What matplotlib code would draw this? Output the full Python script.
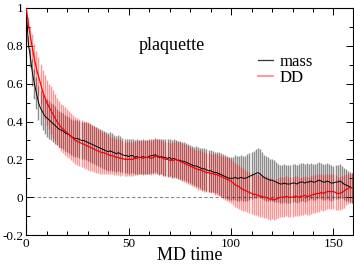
import numpy as np
import matplotlib

matplotlib.use("Agg")
import matplotlib.pyplot as plt
from matplotlib.lines import Line2D
from matplotlib.ticker import MultipleLocator

# MD time steps (one measurement per unit)
md_time = np.arange(160)

# plaquette autocorrelation, "mass" run
mass_mean = [
    1.00, 0.82, 0.74, 0.66, 0.60, 0.55, 0.50, 0.47, 0.45, 0.43,
    0.42, 0.41, 0.40, 0.39, 0.38, 0.37, 0.36, 0.355, 0.35, 0.34,
    0.335, 0.33, 0.32, 0.315, 0.31, 0.31, 0.305, 0.30, 0.30, 0.295,
    0.29, 0.285, 0.28, 0.275, 0.27, 0.265, 0.26, 0.255, 0.25, 0.245,
    0.24, 0.245, 0.24, 0.235, 0.23, 0.235, 0.23, 0.225, 0.22, 0.22,
    0.215, 0.22, 0.22, 0.21, 0.215, 0.21, 0.21, 0.215, 0.21, 0.21,
    0.215, 0.22, 0.22, 0.225, 0.215, 0.21, 0.215, 0.21, 0.21, 0.205,
    0.21, 0.20, 0.205, 0.20, 0.195, 0.195, 0.19, 0.19, 0.185, 0.18,
    0.175, 0.17, 0.165, 0.165, 0.16, 0.155, 0.15, 0.15, 0.145, 0.14,
    0.14, 0.135, 0.13, 0.13, 0.125, 0.12, 0.115, 0.11, 0.105, 0.10,
    0.10, 0.10, 0.105, 0.10, 0.10, 0.105, 0.10, 0.10, 0.105, 0.11,
    0.115, 0.12, 0.125, 0.13, 0.125, 0.115, 0.105, 0.10, 0.095, 0.09,
    0.09, 0.085, 0.08, 0.075, 0.07, 0.07, 0.075, 0.07, 0.07, 0.07,
    0.075, 0.075, 0.07, 0.075, 0.08, 0.08, 0.075, 0.08, 0.08, 0.085,
    0.08, 0.08, 0.085, 0.09, 0.085, 0.08, 0.08, 0.085, 0.08, 0.075,
    0.075, 0.08, 0.08, 0.085, 0.08, 0.07, 0.065, 0.06, 0.055, 0.05,
]
mass_err = [
    0.0, 0.03, 0.05, 0.07, 0.08, 0.085, 0.09, 0.09, 0.095, 0.095,
    0.1, 0.1, 0.1, 0.1, 0.1, 0.095, 0.095, 0.095, 0.095, 0.095,
    0.095, 0.095, 0.095, 0.095, 0.1, 0.1, 0.1, 0.1, 0.1, 0.1,
    0.1, 0.1, 0.1, 0.1, 0.1, 0.1, 0.1, 0.1, 0.1, 0.1,
    0.1, 0.1, 0.1, 0.095, 0.095, 0.095, 0.095, 0.09, 0.09, 0.09,
    0.09, 0.09, 0.09, 0.09, 0.09, 0.09, 0.09, 0.09, 0.09, 0.09,
    0.09, 0.09, 0.09, 0.09, 0.095, 0.095, 0.095, 0.1, 0.1, 0.1,
    0.1, 0.1, 0.1, 0.1, 0.1, 0.1, 0.1, 0.1, 0.1, 0.1,
    0.1, 0.1, 0.1, 0.105, 0.105, 0.105, 0.11, 0.11, 0.11, 0.11,
    0.11, 0.11, 0.11, 0.11, 0.115, 0.115, 0.115, 0.115, 0.115, 0.115,
    0.115, 0.115, 0.12, 0.12, 0.12, 0.12, 0.12, 0.12, 0.125, 0.125,
    0.125, 0.125, 0.13, 0.13, 0.13, 0.125, 0.12, 0.12, 0.115, 0.11,
    0.11, 0.11, 0.105, 0.1, 0.1, 0.1, 0.1, 0.1, 0.1, 0.1,
    0.1, 0.1, 0.1, 0.1, 0.1, 0.1, 0.1, 0.1, 0.095, 0.095,
    0.095, 0.095, 0.095, 0.095, 0.095, 0.095, 0.095, 0.095, 0.095, 0.095,
    0.09, 0.09, 0.09, 0.09, 0.085, 0.085, 0.085, 0.08, 0.08, 0.08,
]

# "DD" run
dd_mean = [
    1.00, 0.92, 0.85, 0.79, 0.73, 0.68, 0.64, 0.60, 0.56, 0.53,
    0.50, 0.48, 0.46, 0.44, 0.42, 0.40, 0.385, 0.37, 0.36, 0.35,
    0.34, 0.33, 0.32, 0.31, 0.30, 0.295, 0.29, 0.285, 0.28, 0.275,
    0.27, 0.265, 0.26, 0.255, 0.25, 0.245, 0.24, 0.235, 0.235, 0.23,
    0.225, 0.22, 0.22, 0.215, 0.21, 0.21, 0.205, 0.205, 0.20, 0.20,
    0.20, 0.20, 0.20, 0.205, 0.205, 0.21, 0.21, 0.205, 0.21, 0.21,
    0.21, 0.205, 0.21, 0.215, 0.22, 0.215, 0.21, 0.205, 0.20, 0.20,
    0.195, 0.195, 0.195, 0.20, 0.195, 0.19, 0.185, 0.18, 0.175, 0.17,
    0.165, 0.16, 0.155, 0.15, 0.145, 0.145, 0.14, 0.135, 0.13, 0.13,
    0.125, 0.125, 0.12, 0.12, 0.115, 0.11, 0.105, 0.10, 0.095, 0.09,
    0.085, 0.075, 0.065, 0.06, 0.055, 0.045, 0.04, 0.035, 0.03, 0.025,
    0.02, 0.015, 0.015, 0.01, 0.005, 0.005, 0.0, 0.0, -0.005, -0.01,
    -0.01, -0.015, -0.01, -0.005, 0.0, 0.0, 0.0, 0.005, 0.0, 0.0,
    0.0, 0.005, 0.005, 0.0, 0.005, 0.005, 0.01, 0.005, 0.005, 0.01,
    0.015, 0.015, 0.02, 0.02, 0.025, 0.02, 0.025, 0.03, 0.03, 0.03,
    0.03, 0.025, 0.02, 0.02, 0.025, 0.03, 0.04, 0.045, 0.05, 0.05,
]
dd_err = [
    0.0, 0.03, 0.05, 0.07, 0.08, 0.09, 0.1, 0.105, 0.11, 0.115,
    0.12, 0.12, 0.125, 0.125, 0.125, 0.125, 0.125, 0.125, 0.125, 0.125,
    0.125, 0.125, 0.125, 0.125, 0.125, 0.125, 0.125, 0.125, 0.125, 0.125,
    0.125, 0.125, 0.12, 0.12, 0.12, 0.115, 0.115, 0.11, 0.11, 0.105,
    0.105, 0.1, 0.1, 0.1, 0.095, 0.095, 0.095, 0.09, 0.09, 0.09,
    0.09, 0.09, 0.09, 0.09, 0.09, 0.09, 0.09, 0.09, 0.09, 0.09,
    0.09, 0.09, 0.09, 0.09, 0.09, 0.09, 0.09, 0.09, 0.09, 0.09,
    0.09, 0.09, 0.095, 0.095, 0.095, 0.1, 0.1, 0.1, 0.1, 0.1,
    0.1, 0.1, 0.1, 0.1, 0.105, 0.105, 0.105, 0.105, 0.105, 0.105,
    0.105, 0.105, 0.11, 0.11, 0.11, 0.11, 0.115, 0.115, 0.115, 0.115,
    0.115, 0.115, 0.115, 0.115, 0.115, 0.115, 0.115, 0.11, 0.11, 0.11,
    0.11, 0.11, 0.11, 0.11, 0.11, 0.11, 0.11, 0.11, 0.11, 0.11,
    0.105, 0.105, 0.105, 0.105, 0.105, 0.105, 0.105, 0.105, 0.105, 0.105,
    0.105, 0.105, 0.105, 0.1, 0.1, 0.1, 0.1, 0.1, 0.1, 0.1,
    0.1, 0.1, 0.1, 0.1, 0.095, 0.095, 0.095, 0.09, 0.09, 0.09,
    0.09, 0.09, 0.085, 0.085, 0.085, 0.085, 0.08, 0.08, 0.08, 0.08,
]

y_ticks = [-0.2, 0, 0.2, 0.4, 0.6, 0.8, 1]
y_labels = ["-0.2", "0", "0.2", "0.4", "0.6", "0.8", "1"]
x_ticks = [0, 50, 100, 150]
x_labels = ["0", "50", "100", "150"]

plt.rcParams["font.family"] = ["Liberation Serif", "DejaVu Serif"]

fig = plt.figure(figsize=(3.54, 2.65), dpi=100)
ax = fig.add_axes([0.074, 0.113, 0.923, 0.857])

ax.axhline(0, color="#888888", linestyle=(0, (3, 2)), linewidth=0.8, zorder=1)

ax.errorbar(md_time, mass_mean, yerr=mass_err, fmt="none",
            ecolor=(0, 0, 0, 0.45), elinewidth=1.0, capsize=0, zorder=2)
ax.errorbar(md_time, dd_mean, yerr=dd_err, fmt="none",
            ecolor=(1, 0, 0, 0.42), elinewidth=1.0, capsize=0, zorder=3)
ax.plot(md_time, mass_mean, color="black", linewidth=0.7, zorder=4)
ax.plot(md_time, dd_mean, color="red", linewidth=0.9, zorder=5)

ax.set_xlim(0, 159.5)
ax.set_ylim(-0.2, 1.0)
ax.set_xticks(x_ticks, x_labels)
ax.set_yticks(y_ticks, y_labels)
ax.xaxis.set_minor_locator(MultipleLocator(10))
ax.yaxis.set_minor_locator(MultipleLocator(0.1))
ax.tick_params(which="both", direction="in", top=True, right=True,
               labelsize=9.5, pad=2)
ax.tick_params(which="major", length=5, width=0.7)
ax.tick_params(which="minor", length=3, width=0.7)
for spine in ax.spines.values():
    spine.set_linewidth(0.8)

ax.set_xlabel("MD time", fontsize=13, labelpad=-2)
ax.text(71, 0.80, "plaquette", fontsize=13, ha="center", va="center")

handles = [Line2D([], [], color="#333333", linewidth=0.9),
           Line2D([], [], color="#ff9090", linewidth=1.3)]
ax.legend(handles, ["mass", "DD"], loc="upper left",
          bbox_to_anchor=(0.675, 0.85), frameon=False, fontsize=12,
          handlelength=0.9, handletextpad=0.35, labelspacing=0.0,
          borderpad=0.2)

fig.savefig("out.png", dpi=100)
